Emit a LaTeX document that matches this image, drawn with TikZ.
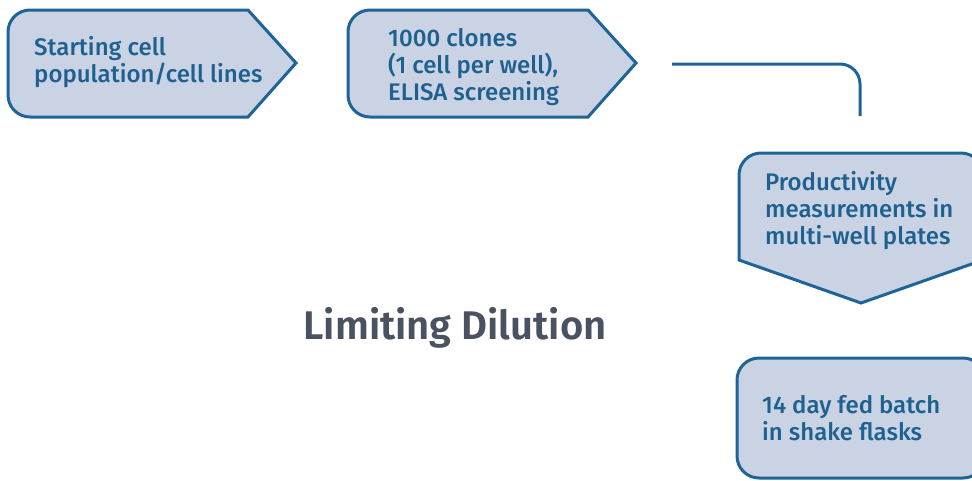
\documentclass[tikz,border=0pt]{standalone}
\usepackage{fontspec}
\setmainfont{Fira Sans}
\newfontfamily\boxfont{Fira Sans Medium}
\newfontfamily\titlefont{Fira Sans SemiBold}
\definecolor{boxfill}{HTML}{C9D3E3}
\definecolor{boxline}{HTML}{1F6496}
\definecolor{boxtext}{HTML}{1E6090}
\definecolor{titlecol}{HTML}{4A5261}
\tikzset{
  stepshape/.style={draw=boxline, fill=boxfill, line width=3pt, line join=miter},
  steptext/.style={anchor=base west, inner sep=0pt, align=left, text=boxtext,
    font=\boxfont\fontsize{24}{27}\selectfont},
  connline/.style={draw=boxline, line width=3pt, rounded corners=20pt}
}
\begin{document}
\begin{tikzpicture}[x=1pt,y=1pt]
\useasboundingbox (0,0) rectangle (972,-480);
\clip (0,0) rectangle (972,-480);
% box 1
\path[stepshape] (248,-10) -- (296,-63) -- (248,-117) -- (30,-117)
  arc[start angle=270,end angle=180,radius=22] -- (8,-32)
  arc[start angle=180,end angle=90,radius=22] -- cycle;
\node[steptext] (s1) at (34,-82) {Starting cell\\population/cell lines};
% box 2
\path[stepshape] (588,-10) -- (636,-63) -- (588,-117) -- (370,-117)
  arc[start angle=270,end angle=180,radius=22] -- (348,-32)
  arc[start angle=180,end angle=90,radius=22] -- cycle;
\node[steptext] (s2) at (388,-100) {1000 clones\\(1 cell per well),\\ELISA screening};
% connector
\coordinate (c1) at (672,-64);
\coordinate (c2) at (860,-64);
\coordinate (c3) at (860,-116);
\draw[connline] (c1) -- (c2) -- (c3);
% box 3
\path[stepshape] (739,-260) -- (739,-175)
  arc[start angle=180,end angle=90,radius=22] -- (961,-153)
  arc[start angle=90,end angle=0,radius=22] -- (983,-260) -- (861,-303) -- cycle;
\node[steptext] (s3) at (765,-244) {Productivity\\measurements in\\multi-well plates};
% box 4
\path[stepshape] (737,-456) -- (737,-380)
  arc[start angle=180,end angle=90,radius=22] -- (963,-358)
  arc[start angle=90,end angle=0,radius=22] -- (985,-456)
  arc[start angle=0,end angle=-90,radius=22] -- (759,-478)
  arc[start angle=270,end angle=180,radius=22] -- cycle;
\node[steptext] (s4) at (762,-440) {14 day fed batch\\in shake flasks};
% title
\node[anchor=base, inner sep=0pt, text=titlecol, font=\titlefont\fontsize{40}{44}\selectfont] (title) at (455,-339) {Limiting Dilution};
\end{tikzpicture}
\end{document}
